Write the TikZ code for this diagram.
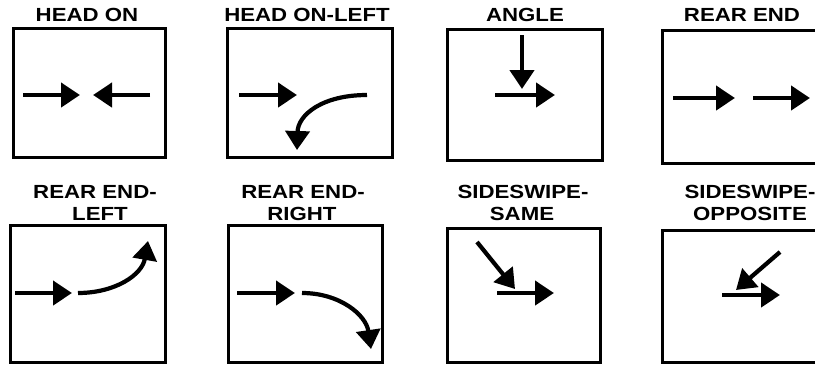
\documentclass[tikz,border=0pt]{standalone}
\usepackage{fontspec}
\setmainfont{Liberation Sans}
\usetikzlibrary{arrows.meta}
\tikzset{
  panel/.style={draw, line width=3pt},
  title/.style={font=\fontsize{19}{20}\selectfont\bfseries, inner sep=0pt, align=center},
  car/.style={line width=4.2pt, -{Triangle[length=19pt,width=24pt]}},
}
\newcommand{\ttl}[1]{\scalebox{1.17}[1]{#1}}
\begin{document}
\begin{tikzpicture}[x=1pt,y=-1pt]
\useasboundingbox (0,0) rectangle (815,365);
\clip (0,0) rectangle (815,365);
% panels
\draw[panel] (13,28) rectangle (165,157);
\draw[panel] (227,28) rectangle (392,157);
\draw[panel] (447,29) rectangle (602,160);
\draw[panel] (662,30) rectangle (840,163);
\draw[panel] (10,225) rectangle (165,362);
\draw[panel] (228,225) rectangle (382,362);
\draw[panel] (447,228) rectangle (600,362);
\draw[panel] (662,230) rectangle (840,362);
% titles
\node[title] (t1) at (87,15) {\ttl{HEAD ON}};
\node[title] (t2) at (307,15) {\ttl{HEAD ON-LEFT}};
\node[title] (t3) at (525,15) {\ttl{ANGLE}};
\node[title] (t4) at (742,15) {\ttl{REAR END}};
\node[title] (t5a) at (95,192) {\ttl{REAR END-}};
\node[title] (t5b) at (100,214) {\ttl{LEFT}};
\node[title] (t6a) at (303,192) {\ttl{REAR END-}};
\node[title] (t6b) at (302,214) {\ttl{RIGHT}};
\node[title] (t7a) at (523,192) {\ttl{SIDESWIPE-}};
\node[title] (t7b) at (522,214) {\ttl{SAME}};
\node[title] (t8a) at (750,192) {\ttl{SIDESWIPE-}};
\node[title] (t8b) at (750,214) {\ttl{OPPOSITE}};
% arrow endpoints
\coordinate (a1s) at (23,95);  \coordinate (a1e) at (80,95);
\coordinate (b1s) at (150,95); \coordinate (b1e) at (93,95);
\coordinate (a2s) at (239,95); \coordinate (a2e) at (297,95);
\coordinate (b2s) at (367,95); \coordinate (b2e) at (297,150);
\coordinate (a3s) at (522,35); \coordinate (a3e) at (522,89);
\coordinate (b3s) at (495,95); \coordinate (b3e) at (555,95);
\coordinate (a4s) at (673,98); \coordinate (a4e) at (735,98);
\coordinate (b4s) at (753,98); \coordinate (b4e) at (810,98);
\coordinate (a5s) at (15,293); \coordinate (a5e) at (72,293);
\coordinate (b5s) at (78,293); \coordinate (b5e) at (148,241);
\coordinate (a6s) at (237,293);\coordinate (a6e) at (295,293);
\coordinate (b6s) at (302,293);\coordinate (b6e) at (371,349);
\coordinate (a7s) at (477,242);\coordinate (a7e) at (515,289);
\coordinate (b7s) at (497,293);\coordinate (b7e) at (554,293);
\coordinate (a8s) at (780,252);\coordinate (a8e) at (736,290);
\coordinate (b8s) at (722,295);\coordinate (b8e) at (780,295);
% arrows
\draw[car] (a1s) -- (a1e);
\draw[car] (b1s) -- (b1e);
\draw[car] (a2s) -- (a2e);
\draw[car] (b2s) .. controls (322,95) and (298,115) .. (b2e);
\draw[car] (a3s) -- (a3e);
\draw[car] (b3s) -- (b3e);
\draw[car] (a4s) -- (a4e);
\draw[car] (b4s) -- (b4e);
\draw[car] (a5s) -- (a5e);
\draw[car] (b5s) .. controls (115,293) and (142,275) .. (b5e);
\draw[car] (a6s) -- (a6e);
\draw[car] (b6s) .. controls (340,293) and (366,315) .. (b6e);
\draw[car] (a7s) -- (a7e);
\draw[car] (b7s) -- (b7e);
\draw[car] (a8s) -- (a8e);
\draw[car] (b8s) -- (b8e);
\end{tikzpicture}
\end{document}
